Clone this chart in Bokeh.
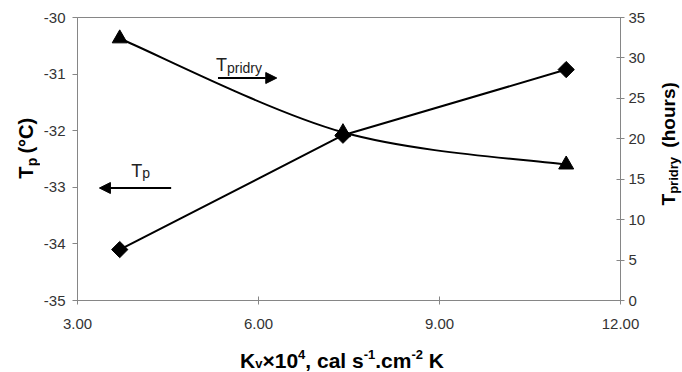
import numpy as np
from bokeh.plotting import figure
from bokeh.layouts import row, column
from bokeh.models import (Range1d, LinearAxis, FixedTicker, PrintfTickFormatter,
                          Label, Arrow, NormalHead)
from bokeh.embed import file_html
from bokeh.resources import INLINE

# ---- data ----
kv = [3.7, 7.4, 11.1]
tp = [-34.1, -32.08, -30.92]
tpridry = [32.4, 20.8, 16.8]
x_ticks = [3, 6, 9, 12]
left_ticks = [-35, -34, -33, -32, -31, -30]
right_ticks = [0, 5, 10, 15, 20, 25, 30, 35]

# ---- layout (page pixels) ----
LW, RW, BH = 40, 34, 35          # side strips for the axis titles
TOTW, TOTH = 682, 372
MW, MH = TOTW - LW - RW, TOTH - BH
FX, FY, FW, FH = 76, 17, 545, 283  # plot frame in page pixels
AXC = "#868686"
TXT = "#333333"
FONT = "Liberation Sans"

p = figure(width=MW, height=MH, output_backend="svg", toolbar_location=None,
           title=None,
           x_range=Range1d(3, 12), y_range=Range1d(-35, -30),
           min_border_left=FX - LW, min_border_right=MW - (FX - LW) - FW,
           min_border_top=FY, min_border_bottom=MH - FY - FH)
p.extra_y_ranges = {"right": Range1d(0, 35)}
p.xgrid.visible = False
p.ygrid.visible = False
p.outline_line_color = AXC
p.background_fill_color = "white"
p.border_fill_color = "white"


def style_axis(ax, tin, tout, standoff):
    ax.axis_line_color = AXC
    ax.major_tick_line_color = AXC
    ax.minor_tick_line_color = None
    ax.major_tick_in = tin
    ax.major_tick_out = tout
    ax.major_label_standoff = standoff
    ax.major_label_text_font = FONT
    ax.major_label_text_font_size = "15px"
    ax.major_label_text_color = TXT


xax = p.xaxis[0]
xax.ticker = FixedTicker(ticks=x_ticks)
xax.formatter = PrintfTickFormatter(format="%.2f")
style_axis(xax, 4, 4, 14)

yax = p.yaxis[0]
yax.ticker = FixedTicker(ticks=left_ticks)
yax.formatter = PrintfTickFormatter(format="%d")
style_axis(yax, 0, 5, 7)

rax = LinearAxis(y_range_name="right", ticker=FixedTicker(ticks=right_ticks),
                 formatter=PrintfTickFormatter(format="%d"))
style_axis(rax, 4, 4, 4)
p.add_layout(rax, "right")

# ---- Tp series (straight lines, diamonds) ----
p.line(kv, tp, line_color="black", line_width=2)
p.scatter(kv, tp, marker="square", size=11.5, angle=np.pi / 4,
          fill_color="black", line_color="black")

# ---- Tpridry series (smoothed line, triangles) ----
xs = np.array(kv, dtype=float)
ys = np.array(tpridry, dtype=float)
n = len(xs)
x0, y0, x1, y1, cx0, cy0, cx1, cy1 = [], [], [], [], [], [], [], []
for i in range(n - 1):
    pm = max(i - 1, 0)
    pn = min(i + 2, n - 1)
    x0.append(xs[i]); y0.append(ys[i])
    x1.append(xs[i + 1]); y1.append(ys[i + 1])
    cx0.append(xs[i] + (xs[i + 1] - xs[pm]) / 6)
    cy0.append(ys[i] + (ys[i + 1] - ys[pm]) / 6)
    cx1.append(xs[i + 1] - (xs[pn] - xs[i]) / 6)
    cy1.append(ys[i + 1] - (ys[pn] - ys[i]) / 6)
p.bezier(x0=x0, y0=y0, x1=x1, y1=y1, cx0=cx0, cy0=cy0, cx1=cx1, cy1=cy1,
         y_range_name="right", line_color="black", line_width=2)
p.scatter(kv, tpridry, marker="triangle", size=15, y_range_name="right",
          fill_color="black", line_color="black")


# ---- page pixel -> main-plot data ----
def X(ix):
    return 3 + (ix - FX) * 9 / FW


def YL(iy):
    return -30 - (iy - FY) * 5 / FH


def lab(fig, text, x, y, size, bold=True, angle=0.0, color="black"):
    fig.add_layout(Label(x=x, y=y, text=text, text_font=FONT,
                         text_font_size=f"{size}px",
                         text_font_style="bold" if bold else "normal",
                         text_color=color, text_align="left",
                         text_baseline="alphabetic", angle=angle))


# ---- in-plot annotations ----
lab(p, "T", X(215), YL(64), 18, bold=False, color="#222222")
lab(p, "pridry", X(226), YL(67), 14, bold=False, color="#222222")
lab(p, "T", X(130), YL(170), 18, bold=False, color="#222222")
lab(p, "p", X(141), YL(172.5), 14, bold=False, color="#222222")

p.add_layout(Arrow(end=NormalHead(size=11, fill_color="black", line_color="black"),
                   x_start=X(217), y_start=YL(77.5), x_end=X(276), y_end=YL(77.5),
                   line_width=2, line_color="black"))
p.add_layout(Arrow(end=NormalHead(size=11, fill_color="black", line_color="black"),
                   x_start=X(170), y_start=YL(187.5), x_end=X(98), y_end=YL(187.5),
                   line_width=2, line_color="black"))


# ---- strips holding the axis titles (coordinates = local pixels, y down) ----
def strip(w, h):
    f = figure(width=w, height=h, output_backend="svg", toolbar_location=None,
               title=None,
               x_range=Range1d(0, w), y_range=Range1d(h, 0),
               x_axis_location=None, y_axis_location=None,
               min_border=0, min_border_left=0, min_border_right=0,
               min_border_top=0, min_border_bottom=0)
    f.grid.visible = False
    f.outline_line_color = None
    f.background_fill_color = "white"
    f.border_fill_color = "white"
    return f


A = np.pi / 2
left = strip(LW, MH)
lab(left, "T", 25, 192, 20, angle=A)
lab(left, "p", 31, 177, 14, angle=A)
lab(left, "(\u00b0C)", 25, 162, 20, angle=A)

right = strip(RW, MH)
ox = LW + MW
lab(right, "T", 668 - ox, 224, 19, angle=A)
lab(right, "pridry", 673 - ox, 210, 13, angle=A)
lab(right, "(hours)", 668 - ox, 155, 19, angle=A)

# Arial-compatible advance widths (per 1000 em), bold
BWID = {" ": 278, "-": 333, ".": 278, ",": 278, "K": 722, "v": 556, "c": 556,
        "a": 556, "l": 278, "s": 556, "m": 889, "\u00d7": 584}
for d in "0123456789":
    BWID[d] = 556


def tw(text, size):
    return sum(BWID.get(ch, 556) for ch in text) * size / 1000


bottom = strip(TOTW, BH)
oy = MH
MS, SS = 21, 13
runs = [("K", MS, 0), ("v", SS, 3), ("\u00d710", MS, 0), ("4", SS, -6),
        (", cal s", MS, 0), ("-1", SS, -6), (".cm", MS, 0), ("-2", SS, -6),
        (" K", MS, 0)]
total = sum(tw(t, s) for t, s, _ in runs)
ix = 341.5 - total / 2
for t, s, sh in runs:
    lead = len(t) - len(t.lstrip(" "))
    ix += tw(" " * lead, s)
    body = t.lstrip(" ")
    lab(bottom, body, ix, 360 - oy + sh, s)
    ix += tw(body, s)

layout = column(row(left, p, right, spacing=0), bottom, spacing=0)
open("out.html", "w").write(file_html(layout, INLINE))
